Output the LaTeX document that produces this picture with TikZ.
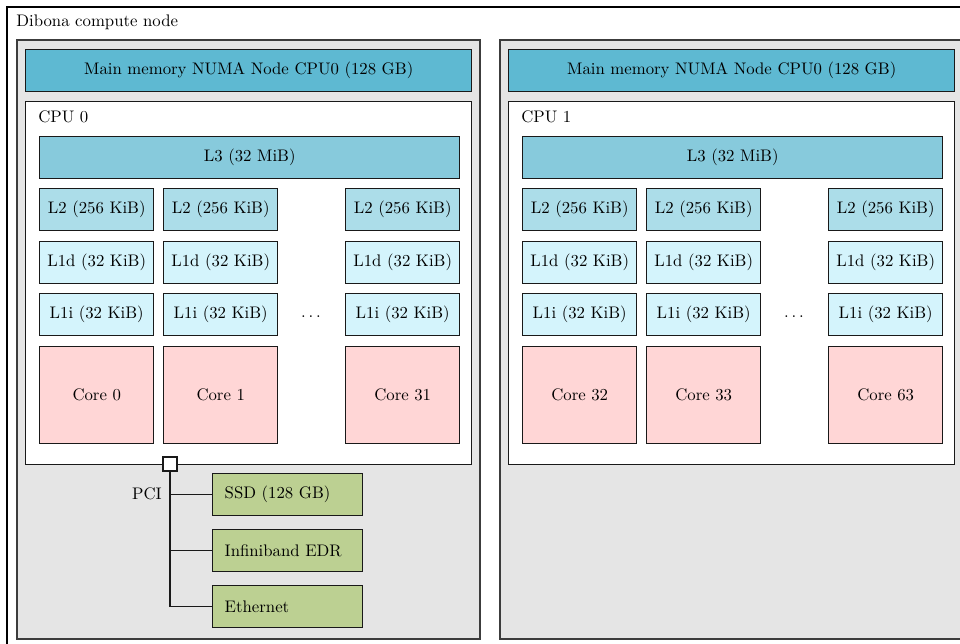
\documentclass[tikz,border=0pt]{standalone}
\usetikzlibrary{positioning}
\definecolor{memfill}{RGB}{94,185,210}
\definecolor{lthreefill}{RGB}{135,202,220}
\definecolor{ltwofill}{RGB}{172,221,233}
\definecolor{lonefill}{RGB}{212,244,252}
\definecolor{corefill}{RGB}{255,214,214}
\definecolor{devfill}{RGB}{188,208,146}
\definecolor{panelfill}{RGB}{229,229,229}
\definecolor{edgegray}{RGB}{60,60,60}
\def\upx{0.597pt}
\tikzset{
  box/.style={draw=black!90, line width=0.85pt},
  mem/.style={box, fill=memfill},
  lthree/.style={box, fill=lthreefill},
  ltwo/.style={box, fill=ltwofill},
  lone/.style={box, fill=lonefill},
  corebox/.style={box, fill=corefill},
  dev/.style={box, fill=devfill, anchor=north west, align=left,
    inner xsep=12*\upx, text width=126*\upx, minimum height=42*\upx},
  panel/.style={draw=edgegray, line width=1.1pt, fill=panelfill},
  cpubox/.style={box, fill=white},
  cell/.style={minimum width=114*\upx, minimum height=42*\upx, anchor=north west, inner sep=1pt},
  bus/.style={draw=black!90, line width=0.85pt},
}
\begin{document}
\begin{tikzpicture}[x=\upx,y=-\upx]
\useasboundingbox (0,0) rectangle (960,644);
\clip (0,0) rectangle (960,644);
\fill[white] (0,0) rectangle (960,644);
% compute node frame
\draw[line width=1pt] (7,7) rectangle (990,680);
\node[anchor=base west, inner sep=0pt] (title) at (16,27) {Dibona compute node};

% one socket: panel, memory, CPU with caches and cores
% #1 = x offset, #2 = cpu number, #3..#5 = core numbers, #6 = name suffix
\newcommand{\socket}[6]{%
  \begin{scope}[xshift=#1*\upx]
    \draw[panel] (17,40) rectangle (480,639);
    \node[mem, minimum width=446*\upx, minimum height=42*\upx, anchor=north west] (mem#6) at (25,49) {Main memory NUMA Node CPU0 (128 GB)};
    \node[cpubox, minimum width=446*\upx, minimum height=363*\upx, anchor=north west] (cpu#6) at (25,101) {};
    \node[anchor=base west, inner sep=0pt] (cpulab#6) at (38,123) {CPU #2};
    \node[lthree, minimum width=420*\upx, minimum height=42*\upx, anchor=north west] (lthree#6) at (39,136) {L3 (32 MiB)};
    \foreach \cx/\cn/\k in {39/#3/a,163/#4/b,345/#5/c}{
      \node[ltwo, cell] (ltwo#6\k) at (\cx,188) {L2 (256 KiB)};
      \node[lone, cell] (lod#6\k) at (\cx,241) {L1d (32 KiB)};
      \node[lone, cell] (loi#6\k) at (\cx,293) {L1i (32 KiB)};
      \node[corebox, cell, minimum height=97*\upx] (core#6\k) at (\cx,346) {Core \cn};
    }
    \node[anchor=base, inner sep=0pt] (dots#6) at (311,318) {$\ldots$};
  \end{scope}}

\socket{0}{0}{0}{1}{31}{L}
\socket{483}{1}{32}{33}{63}{R}

% PCI bus and attached devices
\node[draw=black!90, line width=0.85pt, fill=white, minimum size=14*\upx, inner sep=0pt] (pci) at (170,464) {};
\node[dev] (ssd) at (212,473) {SSD (128 GB)};
\node[dev] (ib) at (212,529) {Infiniband EDR};
\node[dev] (eth) at (212,585) {Ethernet};
\coordinate (busend) at (pci.center |- eth.west);
\draw[bus] (pci.south) -- (busend);
\draw[bus] (ssd.west -| pci.center) -- (ssd.west);
\draw[bus] (ib.west -| pci.center) -- (ib.west);
\draw[bus] (busend) -- (eth.west);
\node[anchor=east, inner sep=0pt] (pcilab) at (162,494) {PCI};
\end{tikzpicture}
\end{document}
